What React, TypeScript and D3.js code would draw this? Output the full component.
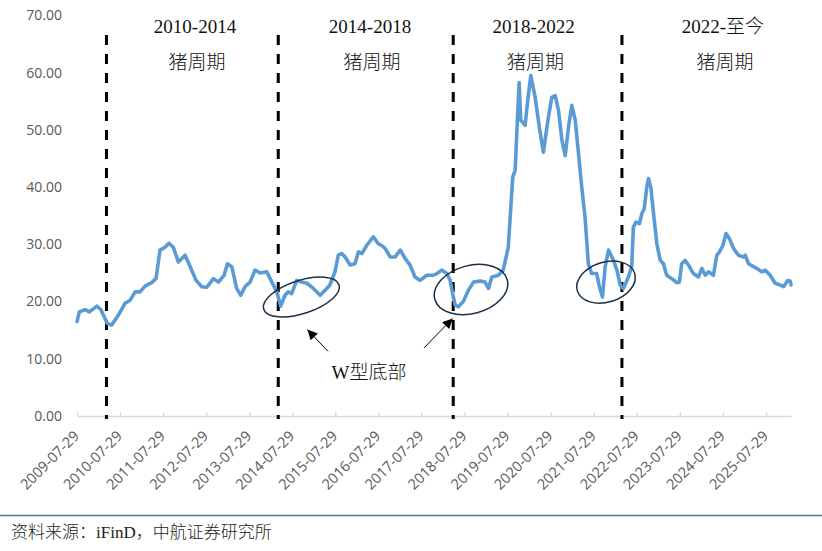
import { useEffect, useRef } from 'react';
import * as d3 from 'd3';

// weekly hog price (yuan/kg)
const dates = [
  '2009-07-29', '2009-08-18', '2009-10-05', '2009-11-11', '2010-01-13', '2010-02-16', '2010-04-11', '2010-05-19',
  '2010-07-14', '2010-09-09', '2010-10-22', '2010-12-04', '2011-01-15', '2011-02-26', '2011-04-23', '2011-05-30',
  '2011-07-03', '2011-08-14', '2011-09-17', '2011-10-24', '2011-12-06', '2012-02-01', '2012-03-15', '2012-05-04',
  '2012-06-21', '2012-08-02', '2012-09-28', '2012-11-09', '2012-12-28', '2013-01-25', '2013-03-03', '2013-04-13',
  '2013-05-18', '2013-06-23', '2013-08-05', '2013-09-16', '2013-10-29', '2013-12-25', '2014-02-06', '2014-03-20',
  '2014-04-21', '2014-05-28', '2014-06-25', '2014-07-24', '2014-09-05', '2014-10-18', '2014-11-30', '2015-01-24',
  '2015-03-22', '2015-05-03', '2015-06-13', '2015-07-26', '2015-08-23', '2015-09-21', '2015-10-20', '2015-12-02',
  '2016-01-12', '2016-02-10', '2016-03-10', '2016-04-20', '2016-06-15', '2016-07-28', '2016-08-26', '2016-09-23',
  '2016-11-05', '2016-12-18', '2017-01-30', '2017-03-13', '2017-04-22', '2017-06-04', '2017-07-17', '2017-09-12',
  '2017-11-07', '2017-12-07', '2018-01-17', '2018-03-01', '2018-03-29', '2018-04-19', '2018-05-10', '2018-06-06',
  '2018-07-19', '2018-08-31', '2018-10-13', '2018-12-09', '2019-01-19', '2019-02-17', '2019-03-17', '2019-05-12',
  '2019-06-22', '2019-08-04', '2019-08-24', '2019-09-11', '2019-10-01', '2019-10-15', '2019-11-04', '2019-11-18',
  '2019-12-25', '2020-01-13', '2020-02-11', '2020-03-19', '2020-04-23', '2020-05-28', '2020-07-01', '2020-08-07',
  '2020-09-05', '2020-10-03', '2020-11-01', '2020-11-29', '2020-12-27', '2021-01-24', '2021-02-22', '2021-03-22',
  '2021-04-18', '2021-05-16', '2021-06-13', '2021-07-12', '2021-08-23', '2021-09-15', '2021-10-11', '2021-11-03',
  '2021-12-01', '2022-01-12', '2022-02-11', '2022-03-10', '2022-04-06', '2022-05-19', '2022-06-16', '2022-06-30',
  '2022-07-23', '2022-08-20', '2022-09-10', '2022-09-30', '2022-10-22', '2022-11-05', '2022-11-25', '2022-12-18',
  '2023-01-15', '2023-02-13', '2023-03-12', '2023-04-09', '2023-05-22', '2023-07-03', '2023-07-25', '2023-08-14',
  '2023-09-12', '2023-10-10', '2023-11-21', '2024-01-03', '2024-02-01', '2024-03-01', '2024-03-28', '2024-05-09',
  '2024-06-07', '2024-06-29', '2024-07-28', '2024-08-24', '2024-09-22', '2024-10-26', '2024-12-08', '2025-01-14',
  '2025-02-03', '2025-03-03', '2025-04-13', '2025-05-12', '2025-06-23', '2025-07-21', '2025-09-02', '2025-10-15',
  '2025-11-26', '2025-12-24', '2026-01-31', '2026-02-20', '2026-02-26',
];

const prices = [
  16.5, 18.2, 18.6, 18.2, 19.2, 18.6, 16.2, 15.9,
  17.6, 19.7, 20.2, 21.7, 21.7, 22.7, 23.3, 24.0,
  29.0, 29.5, 30.2, 29.5, 26.9, 28.1, 26.1, 23.7,
  22.6, 22.5, 24.0, 23.4, 24.6, 26.6, 26.1, 22.3,
  21.1, 22.6, 23.4, 25.5, 25.0, 25.2, 23.4, 21.7,
  19.2, 21.1, 21.7, 21.4, 23.7, 23.4, 23.2, 22.3,
  21.1, 22.0, 22.9, 25.2, 28.1, 28.4, 27.8, 26.4,
  26.6, 28.7, 28.4, 29.8, 31.3, 30.1, 29.8, 29.3,
  27.8, 27.8, 29.0, 27.5, 26.4, 24.3, 23.7, 24.6,
  24.6, 24.9, 25.5, 24.9, 23.7, 21.4, 19.4, 19.1,
  20.0, 22.0, 23.4, 23.6, 23.4, 22.3, 24.3, 24.6,
  25.5, 29.5, 36.0, 41.8, 42.9, 49.3, 58.3, 51.7,
  50.8, 54.6, 59.5, 55.7, 50.5, 46.1, 51.1, 55.7,
  56.0, 53.4, 48.2, 45.5, 50.5, 54.3, 51.7, 45.8,
  40.0, 34.8, 26.6, 24.9, 24.9, 22.6, 20.8, 26.1,
  29.0, 27.2, 25.5, 22.9, 22.3, 24.3, 26.1, 33.0,
  33.9, 33.6, 35.4, 36.2, 40.0, 41.5, 40.0, 35.4,
  30.1, 27.2, 26.6, 24.6, 24.0, 23.3, 23.4, 26.6,
  27.2, 26.4, 24.9, 24.3, 25.8, 24.6, 25.2, 24.6,
  28.1, 28.7, 29.8, 31.9, 31.0, 29.3, 28.1, 27.8,
  28.1, 26.6, 26.1, 25.8, 25.2, 25.5, 24.6, 23.2,
  22.9, 22.6, 23.7, 23.6, 22.9,
];

const tickLabels = [
  '2009-07-29', '2010-07-29', '2011-07-29', '2012-07-29', '2013-07-29', '2014-07-29',
  '2015-07-29', '2016-07-29', '2017-07-29', '2018-07-29', '2019-07-29', '2020-07-29',
  '2021-07-29', '2022-07-29', '2023-07-29', '2024-07-29', '2025-07-29',
];
const yTicks = [0, 10, 20, 30, 40, 50, 60, 70];

// hog cycles
const cycleStarts = ['2010-04-05', '2014-04-01', '2018-04-24', '2022-03-25'];
const cycleNames = ['2010-2014', '2014-2018', '2018-2022', '2022-至今'];
const cycleLabelDates = ['2012-04-25', '2016-05-18', '2020-03-06', '2024-07-29'];

// W-shaped bottoms
const bottomDates = ['2014-10-14', '2018-09-22', '2021-11-10'];
const bottomValues = [20.8, 22.1, 23.4];
const arrowFrom: [string, number][] = [['2015-05-28', 11.3], ['2017-08-19', 11.9]];
const arrowTo: [string, number][] = [['2014-12-04', 15.1], ['2018-04-19', 17.05]];
const bottomNote: [string, number] = ['2016-05-10', 6.5];

const parse = d3.timeParse('%Y-%m-%d');
const serif = "'Liberation Serif', 'Times New Roman', 'Noto Sans CJK SC', serif";
const sans = "'Open Sans', 'Noto Sans', sans-serif";

export default function App() {
  const svgRef = useRef<SVGSVGElement>(null);

  useEffect(() => {
    if (!svgRef.current) return;
    const svg = d3.select(svgRef.current);
    svg.selectAll('*').remove();

    const x = d3.scaleTime()
      .domain([parse('2009-07-29')!, parse('2026-02-26')!])
      .range([77, 791]);
    const y = d3.scaleLinear().domain([0, 70]).range([416, 15.5]);

    // x axis line + inside ticks
    const axis = svg.append('g')
      .attr('transform', `translate(0,${y(0)})`)
      .call(
        d3.axisBottom(x)
          .tickValues(tickLabels.map(d => parse(d)!))
          .tickSize(-4)
          .tickSizeOuter(0)
          .tickFormat(() => '')
      );
    axis.select('.domain').attr('stroke', '#d9d9d9').attr('stroke-width', 1.3);
    axis.selectAll('.tick line').attr('stroke', '#d9d9d9').attr('stroke-width', 1.3);

    // rotated date labels
    svg.append('g')
      .selectAll('text')
      .data(tickLabels)
      .enter()
      .append('text')
      .attr('transform', d => `translate(${x(parse(d)!) + 3},${y(0) + 21}) rotate(-45)`)
      .attr('text-anchor', 'end')
      .attr('font-family', sans)
      .attr('font-size', '14.5px')
      .attr('fill', '#595959')
      .text(d => d);

    // y labels
    svg.append('g')
      .selectAll('text')
      .data(yTicks)
      .enter()
      .append('text')
      .attr('x', 62)
      .attr('y', d => y(d))
      .attr('dy', '0.35em')
      .attr('text-anchor', 'end')
      .attr('font-family', sans)
      .attr('font-size', '14px')
      .attr('fill', '#595959')
      .text(d => d3.format('.2f')(d));

    // cycle dividers
    svg.append('g')
      .selectAll('line')
      .data(cycleStarts)
      .enter()
      .append('line')
      .attr('x1', d => x(parse(d)!))
      .attr('x2', d => x(parse(d)!))
      .attr('y1', 35)
      .attr('y2', y(0) + 3)
      .attr('stroke', '#000')
      .attr('stroke-width', 3)
      .attr('stroke-dasharray', '10,9');

    // price line
    const series = dates.map((d, i) => ({ date: parse(d)!, value: prices[i] }));
    const line = d3.line<{ date: Date; value: number }>()
      .x(d => x(d.date))
      .y(d => y(d.value));
    svg.append('path')
      .datum(series)
      .attr('d', line)
      .attr('fill', 'none')
      .attr('stroke', '#5b9bd5')
      .attr('stroke-width', 3.6)
      .attr('stroke-linejoin', 'round')
      .attr('stroke-linecap', 'round');

    // cycle labels
    const labels = svg.append('g')
      .attr('font-family', serif)
      .attr('font-size', '19px')
      .attr('font-weight', 300)
      .attr('fill', '#111')
      .attr('text-anchor', 'middle');
    cycleNames.forEach((name, i) => {
      const cx = x(parse(cycleLabelDates[i])!);
      labels.append('text').attr('x', cx).attr('y', 33).text(name);
      labels.append('text').attr('x', cx + 2).attr('y', 69).text('猪周期');
    });

    // ellipses round the W bottoms
    const ellipseSize = [[39.6, 16.6, -18], [37.5, 24, -15], [30, 20, -17]];
    bottomDates.forEach((d, i) => {
      const [rx, ry, angle] = ellipseSize[i];
      svg.append('ellipse')
        .attr('transform', `translate(${x(parse(d)!)},${y(bottomValues[i])}) rotate(${angle})`)
        .attr('rx', rx)
        .attr('ry', ry)
        .attr('fill', 'none')
        .attr('stroke', '#1b2f45')
        .attr('stroke-width', 1.5);
    });

    // arrows
    svg.append('defs')
      .append('marker')
      .attr('id', 'head')
      .attr('viewBox', '0 0 10 10')
      .attr('refX', 10)
      .attr('refY', 5)
      .attr('markerUnits', 'userSpaceOnUse')
      .attr('markerWidth', 12)
      .attr('markerHeight', 10)
      .attr('orient', 'auto')
      .append('path')
      .attr('d', 'M0,0 L10,5 L0,10 Z')
      .attr('fill', '#000');
    arrowFrom.forEach((from, i) => {
      const to = arrowTo[i];
      svg.append('line')
        .attr('x1', x(parse(from[0])!))
        .attr('y1', y(from[1]))
        .attr('x2', x(parse(to[0])!))
        .attr('y2', y(to[1]))
        .attr('stroke', '#000')
        .attr('stroke-width', 1)
        .attr('marker-end', 'url(#head)');
    });

    svg.append('text')
      .attr('x', x(parse(bottomNote[0])!))
      .attr('y', y(bottomNote[1]))
      .attr('text-anchor', 'middle')
      .attr('font-family', serif)
      .attr('font-size', '19px')
      .attr('font-weight', 300)
      .attr('fill', '#111')
      .text('W型底部');

    // footer
    svg.append('line')
      .attr('x1', 0)
      .attr('x2', 822)
      .attr('y1', 515.5)
      .attr('y2', 515.5)
      .attr('stroke', '#4f7aa0')
      .attr('stroke-width', 1.5);
    svg.append('text')
      .attr('x', 11)
      .attr('y', 538)
      .attr('font-family', serif)
      .attr('font-size', '17px')
      .attr('font-weight', 300)
      .attr('fill', '#1a1a1a')
      .text('资料来源：iFinD，中航证券研究所');
  }, []);

  return (
    <svg
      ref={svgRef}
      width={822}
      height={551}
      style={{ position: 'absolute', left: 0, top: 0, background: '#fff' }}
    />
  );
}
